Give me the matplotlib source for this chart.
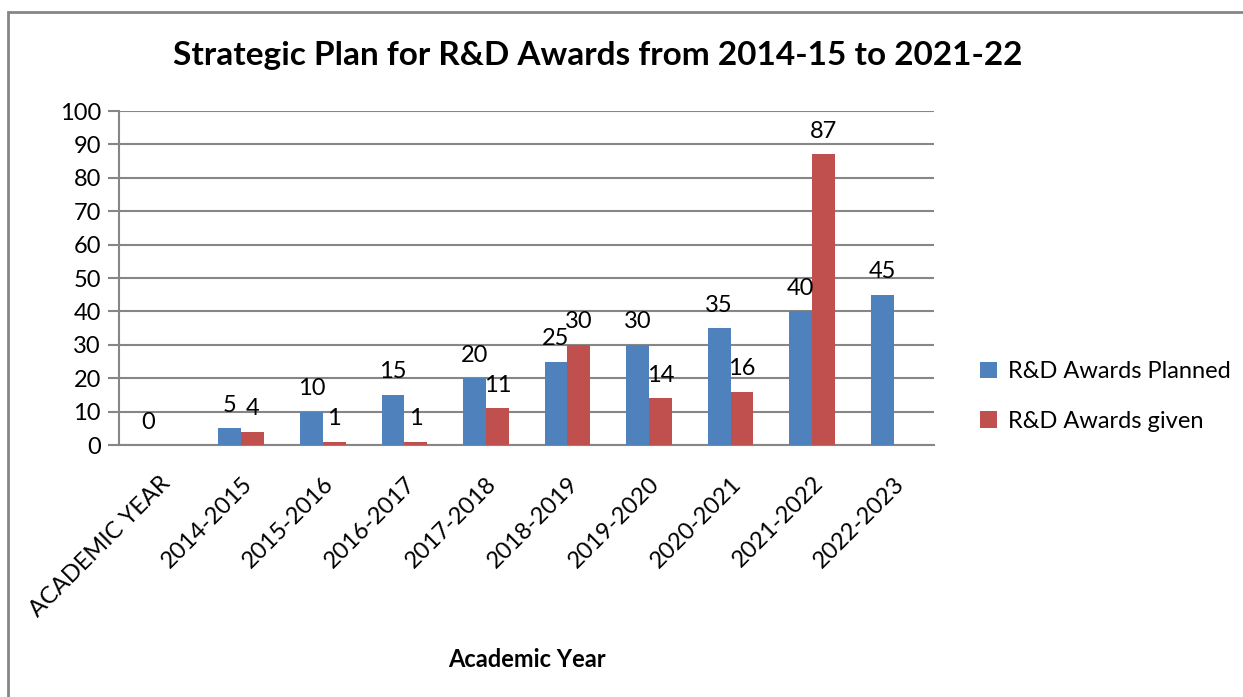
import matplotlib.pyplot as plt
import matplotlib.patches as patches
import numpy as np

plt.rcParams['font.family'] = ['Lato', 'DejaVu Sans']

# 数据
categories = ['ACADEMIC YEAR', '2014-2015', '2015-2016', '2016-2017', '2017-2018',
              '2018-2019', '2019-2020', '2020-2021', '2021-2022', '2022-2023']
planned = [0, 5, 10, 15, 20, 25, 30, 35, 40, 45]
given = [None, 4, 1, 1, 11, 30, 14, 16, 87, None]

blue = '#4F81BD'
red = '#C0504D'
grid_c = '#868686'
fs = 17

fig = plt.figure(figsize=(12.43, 6.97), dpi=100)
ax = fig.add_axes([0.0957, 0.3615, 0.656, 0.4792])

# 外框 (只露出左边和上边)
frame = patches.Rectangle((8 / 1243, -0.1), 1.2, 1 - 12 / 697 + 0.1,
                          transform=fig.transFigure, fill=False,
                          edgecolor=grid_c, linewidth=2, clip_on=False)
fig.add_artist(frame)

x = np.arange(len(categories))
w = 0.28

given_vals = [np.nan if v is None else v for v in given]
ax.bar(x - w / 2, planned, w, color=blue, label='R&D Awards Planned', zorder=3)
ax.bar(x + w / 2, given_vals, w, color=red, label='R&D Awards given', zorder=3)

# 数值标签
for xi, v in zip(x, planned):
    ax.annotate(str(v), (xi - w / 2, v), xytext=(0, 9), textcoords='offset points',
                ha='center', va='bottom', fontsize=fs)
for xi, v in zip(x, given):
    if v is None:
        continue
    ax.annotate(str(v), (xi + w / 2, v), xytext=(0, 9), textcoords='offset points',
                ha='center', va='bottom', fontsize=fs)

ax.set_xlim(-0.5, len(categories) - 0.5)
ax.set_ylim(0, 100)
ax.set_yticks(range(0, 101, 10))
ax.yaxis.grid(True, color=grid_c, linewidth=1.5, zorder=0)
ax.set_axisbelow(True)

for s in ['top', 'right']:
    ax.spines[s].set_visible(False)
for s in ['left', 'bottom']:
    ax.spines[s].set_color(grid_c)
    ax.spines[s].set_linewidth(1.5)

ax.tick_params(axis='y', length=8, width=1.5, color=grid_c, labelsize=fs, pad=5)
ax.set_xticks(x)
ax.set_xticklabels(categories, rotation=45, ha='right', rotation_mode='anchor', fontsize=fs)
ax.tick_params(axis='x', length=0, pad=20)

ax.set_xlabel('Academic Year', fontsize=fs, fontweight='bold', labelpad=19)
fig.text(0.481, 0.92, 'Strategic Plan for R&D Awards from 2014-15 to 2021-22',
         ha='center', va='center', fontsize=24, fontweight='bold')

ax.legend(loc='center left', bbox_to_anchor=(1.03, 0.145), frameon=False, fontsize=fs,
          handlelength=0.7, handleheight=0.7, handletextpad=0.5, labelspacing=1.2)

fig.savefig('out.png', dpi=100)
